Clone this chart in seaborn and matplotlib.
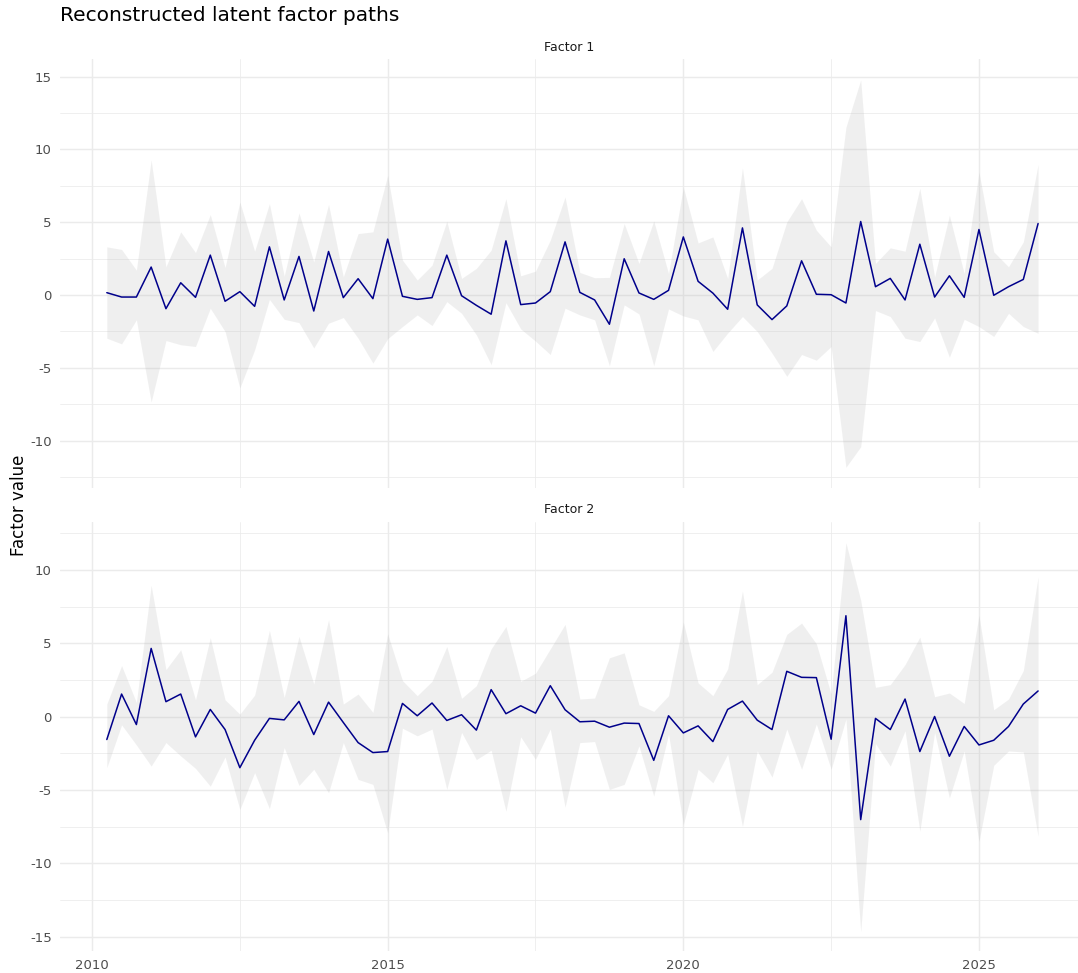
import matplotlib
matplotlib.use("Agg")
import matplotlib.pyplot as plt
import numpy as np
import pandas as pd
import seaborn as sns

# quarterly dates, 2010Q2 .. 2026Q1
dates = pd.date_range("2010-04-01", periods=64, freq="QS")

f1_mean = [0.16, -0.14, -0.14, 1.92, -0.94, 0.84, -0.16, 2.74, -0.43, 0.23,
           -0.78, 3.31, -0.34, 2.65, -1.10, 2.99, -0.18, 1.12, -0.25, 3.84,
           -0.09, -0.30, -0.18, 2.74, -0.05, -0.71, -1.32, 3.72, -0.66, -0.55,
           0.23, 3.65, 0.18, -0.34, -2.01, 2.49, 0.14, -0.30, 0.32, 3.99,
           0.94, 0.13, -0.98, 4.61, -0.68, -1.69, -0.75, 2.35, 0.05, 0.02,
           -0.55, 5.05, 0.57, 1.14, -0.34, 3.49, -0.14, 1.32, -0.16, 4.50,
           -0.02, 0.57, 1.07, 4.91]
f1_upper = [3.31, 3.13, 1.71, 9.29, 1.94, 4.34, 2.92, 5.53, 1.89, 6.39,
            3.01, 6.28, 1.30, 5.64, 2.28, 6.23, 1.25, 4.22, 4.34, 8.22,
            2.40, 1.03, 2.05, 5.07, 1.14, 1.83, 3.08, 6.62, 1.32, 1.64,
            3.77, 6.74, 1.55, 1.19, 1.21, 4.91, 2.17, 5.09, 1.48, 7.42,
            3.58, 3.99, 1.14, 8.74, 1.03, 1.83, 5.02, 6.62, 4.45, 3.31,
            11.53, 14.78, 2.17, 3.24, 3.01, 7.33, 1.25, 5.48, 1.48, 8.45,
            2.97, 1.94, 3.65, 8.97]
f1_lower = [-2.97, -3.36, -1.71, -7.35, -3.13, -3.42, -3.54, -0.91, -2.51, -6.39,
            -3.77, -0.30, -1.67, -1.90, -3.64, -1.94, -1.55, -2.97, -4.68, -3.00,
            -2.17, -1.37, -2.10, -0.46, -1.26, -2.74, -4.79, -0.53, -2.33, -3.17,
            -4.09, -0.91, -1.37, -1.71, -4.86, -0.68, -1.30, -4.86, -0.96, -1.44,
            -1.71, -3.88, -2.62, -1.48, -2.51, -4.00, -5.59, -4.09, -4.48, -3.54,
            -11.84, -10.43, -1.07, -1.48, -2.97, -3.20, -1.58, -4.27, -1.67, -2.17,
            -2.85, -1.26, -2.17, -2.63]

f2_mean = [-1.55, 1.55, -0.53, 4.66, 1.03, 1.55, -1.37, 0.50, -0.87, -3.47,
           -1.60, -0.11, -0.21, 1.05, -1.21, 1.00, -0.39, -1.76, -2.44, -2.37,
           0.91, 0.07, 0.94, -0.25, 0.14, -0.91, 1.85, 0.21, 0.75, 0.25,
           2.12, 0.48, -0.34, -0.30, -0.71, -0.43, -0.46, -2.97, 0.07, -1.10,
           -0.62, -1.69, 0.50, 1.07, -0.23, -0.87, 3.10, 2.69, 2.67, -1.53,
           6.89, -7.01, -0.11, -0.87, 1.21, -2.37, 0.02, -2.69, -0.66, -1.92,
           -1.60, -0.66, 0.87, 1.76]
f2_upper = [0.87, 3.49, 0.98, 8.97, 3.22, 4.57, 1.16, 5.39, 1.16, 0.18,
            1.48, 5.89, 1.32, 5.48, 2.24, 6.62, 0.87, 1.55, 0.30, 5.66,
            2.47, 1.44, 2.42, 4.79, 1.26, 2.12, 4.63, 6.16, 2.42, 2.97,
            4.63, 6.30, 1.21, 1.28, 4.02, 4.36, 0.82, 0.37, 1.44, 6.46,
            2.31, 1.44, 3.26, 8.58, 2.19, 3.04, 5.62, 6.39, 4.98, 1.55,
            11.87, 7.95, 2.01, 2.19, 3.56, 5.43, 1.37, 1.62, 0.91, 6.92,
            0.48, 1.21, 3.15, 9.54]
f2_lower = [-3.47, -0.55, -1.92, -3.36, -1.76, -2.67, -3.52, -4.73, -2.74, -6.32,
            -3.81, -6.26, -2.10, -4.68, -3.58, -5.18, -1.76, -4.27, -4.61, -7.92,
            -0.78, -1.30, -0.84, -4.95, -1.07, -2.92, -2.28, -6.44, -1.37, -2.90,
            -0.84, -6.16, -1.76, -1.69, -4.95, -4.61, -1.99, -5.41, -1.19, -7.35,
            -3.58, -4.50, -2.55, -7.47, -2.33, -4.11, -0.84, -3.58, -0.50, -3.58,
            -0.16, -14.66, -1.83, -3.36, -0.96, -7.81, -1.07, -5.53, -2.33, -8.49,
            -3.31, -2.33, -2.40, -8.15]

factors = ["Factor 1", "Factor 2"]
year_frac = dates.year + (dates.month - 1) / 12

rows = []
for name, m, lo, up in [("Factor 1", f1_mean, f1_lower, f1_upper),
                        ("Factor 2", f2_mean, f2_lower, f2_upper)]:
    rows.append(pd.DataFrame({"t": year_frac, "mean": m, "lower": lo,
                              "upper": up, "factor": name}))
df = pd.concat(rows, ignore_index=True)

sns.set_theme(style="white")
plt.rcParams["font.family"] = ["DejaVu Sans"]
plt.rcParams["axes.unicode_minus"] = False

fig = plt.figure(figsize=(10.78, 9.73), dpi=100)
positions = [[0.0557, 0.4985, 0.9443, 0.4406],
             [0.0557, 0.0229, 0.9443, 0.4409]]
ylims = [(-13.26, 16.2), (-15.95, 13.3)]
majors = [np.arange(-10, 16, 5), np.arange(-15, 11, 5)]
minors = [np.arange(-12.5, 13, 5), np.arange(-12.5, 13, 5)]

for i, fac in enumerate(factors):
    ax = fig.add_axes(positions[i])
    sub = df[df["factor"] == fac]
    ax.fill_between(sub["t"], sub["lower"], sub["upper"], color="#B3B3B3",
                    alpha=0.2, linewidth=0, zorder=2)
    sns.lineplot(data=sub, x="t", y="mean", color="#00008B", linewidth=1.1,
                 ax=ax, zorder=3)
    ax.set_xlim(2009.459, 2026.675)
    ax.set_ylim(*ylims[i])
    ax.set_xticks([2010, 2015, 2020, 2025])
    ax.set_xticks([2012.5, 2017.5, 2022.5], minor=True)
    ax.set_yticks(majors[i])
    ax.set_yticks(minors[i], minor=True)
    ax.grid(True, which="major", color="#EBEBEB", linewidth=1.05, zorder=0)
    ax.grid(True, which="minor", color="#EBEBEB", linewidth=0.55, zorder=0)
    ax.set_axisbelow(True)
    for s in ax.spines.values():
        s.set_visible(False)
    ax.tick_params(which="both", length=0, labelsize=9.5, colors="#4D4D4D",
                   pad=6)
    ax.set_xlabel("")
    ax.set_ylabel("")
    if i == 0:
        ax.tick_params(axis="x", labelbottom=False)
    ax.set_title(fac, fontsize=9, color="#1A1A1A", pad=6)

fig.text(0.0557, 0.984, "Reconstructed latent factor paths", fontsize=14.5,
         ha="left", va="center", color="black")
fig.text(0.018, 0.481, "Factor value", fontsize=12, rotation=90,
         ha="center", va="center", color="black")

fig.savefig("out.png", dpi=100)
